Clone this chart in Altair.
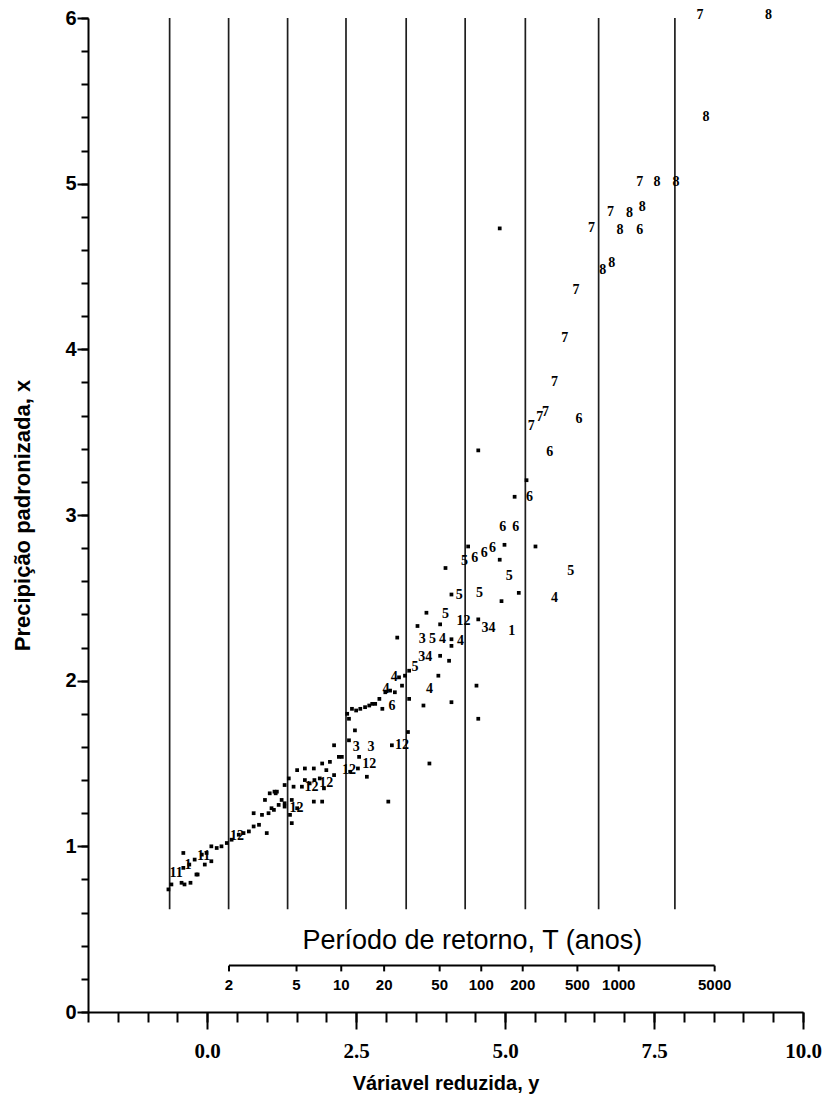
import altair as alt
import numpy as np
import pandas as pd

# ---------------- data (reduced variate y, standardized precipitation x) ----------------
dot_y = [-0.65, -0.60, -0.43, -0.38, -0.28, -0.18, -0.16, -0.40, -0.30, -0.21, -0.40, -0.09, -0.04,
         -0.01, 0.07, 0.07, 0.16, 0.24, 0.33, 0.41, 0.53, 0.61, 0.70, 0.78, 0.87, 0.78, 0.92, 1.00,
         1.03, 1.12, 1.20, 1.05, 1.15, 1.30, 1.30, 1.42,
         0.97, 1.13, 1.37, 1.51, 1.64, 1.79, 1.93, 2.06, 2.21, 2.26, 1.72, 1.89, 2.13, 1.59, 1.42,
         1.25, 1.08, 1.79, 1.93, 1.96, 1.51, 1.39, 1.17, 2.40, 2.68, 3.04, 1.64, 1.80, 2.00, 1.45, 1.30,
         2.48, 2.13, 2.38, 2.55, 2.53, 3.10, 3.73, 2.38, 3.37,
         2.35, 2.43, 2.50, 2.57, 2.65, 2.72, 2.77, 2.82, 2.89, 2.94, 2.99, 3.07, 3.15, 3.22, 3.32,
         3.39, 3.27,
         3.39, 3.63, 3.88, 4.10, 3.19, 3.53, 3.68, 3.91, 3.91, 4.06, 4.10, 4.10, 4.10, 4.00, 4.55,
         4.94, 5.23, 4.91, 4.38, 4.99, 5.51, 5.16, 5.36, 4.55, 4.91, 4.52, 4.55]
dot_x = [0.74, 0.77, 0.78, 0.77, 0.78, 0.83, 0.83, 0.87, 0.89, 0.92, 0.96, 0.95, 0.89,
         0.96, 0.91, 1.00, 0.99, 1.00, 1.02, 1.04, 1.07, 1.08, 1.09, 1.12, 1.13, 1.20, 1.19, 1.08,
         1.20, 1.22, 1.25, 1.32, 1.32, 1.26, 1.24, 1.14,
         1.28, 1.33, 1.41, 1.46, 1.47, 1.47, 1.50, 1.51, 1.54, 1.54, 1.38, 1.41, 1.43, 1.36, 1.28,
         1.28, 1.23, 1.27, 1.27, 1.35, 1.23, 1.19, 1.33, 1.45, 1.42, 1.27, 1.40, 1.40, 1.46, 1.36, 1.37,
         1.70, 1.61, 1.64, 1.54, 1.47, 1.61, 1.50, 1.77, 1.69,
         1.80, 1.83, 1.82, 1.83, 1.84, 1.85, 1.86, 1.86, 1.89, 1.83, 1.93, 1.94, 1.93, 2.02, 2.03,
         2.06, 1.97,
         1.89, 1.85, 2.03, 1.87, 2.26, 2.33, 2.41, 2.34, 2.15, 2.12, 2.25, 2.21, 2.52, 2.68, 2.37,
         2.48, 2.53, 2.73, 2.81, 2.82, 2.81, 3.11, 3.21, 3.39, 4.73, 1.97, 1.77]

lab_y = [-0.52, -0.32, -0.06, 0.50, 1.50, 1.75, 2.00, 2.38, 2.72, 3.27, 2.50, 2.75, 3.00, 3.10,
         3.73, 3.14, 3.49, 3.66, 3.61, 3.78, 3.95, 4.00, 4.30, 4.25, 4.23, 4.57, 4.72, 5.11, 5.83,
         6.10, 5.07, 4.32, 4.49, 4.65, 4.79, 4.96, 5.18, 5.41, 5.75, 6.24, 5.44, 5.58, 5.68, 5.83,
         6.00, 6.19, 6.64, 6.79, 6.45, 6.93, 7.26, 6.77, 7.09, 7.30, 7.26, 7.55, 7.87, 8.37, 8.27, 9.42]
lab_x = [0.84, 0.89, 0.94, 1.06, 1.23, 1.36, 1.38, 1.46, 1.50, 1.61, 1.60, 1.60, 1.95, 1.85,
         1.95, 2.02, 2.08, 2.14, 2.25, 2.25, 2.25, 2.40, 2.36, 2.24, 2.52, 2.53, 2.32, 2.30, 2.50,
         2.66, 2.63, 2.72, 2.74, 2.77, 2.80, 2.93, 2.93, 3.11, 3.38, 3.58, 3.54, 3.59, 3.62, 3.80,
         4.07, 4.36, 4.48, 4.52, 4.73, 4.72, 4.72, 4.83, 4.82, 4.86, 5.01, 5.01, 5.01, 5.40, 6.02, 6.02]
lab_t = ["11", "1", "11", "12", "12", "12", "12", "12", "12", "12", "3", "3", "4", "6",
         "4", "4", "5", "34", "3", "5", "4", "5", "12", "4", "5", "5", "34", "1", "4",
         "5", "5", "5", "6", "6", "6", "6", "6", "6", "6", "6", "7", "7", "7", "7",
         "7", "7", "8", "8", "7", "8", "6", "7", "8", "8", "7", "8", "8", "8", "7", "8"]

# vertical reference lines (reduced variate) and their vertical extent
line_y = [-0.63, 0.36, 1.35, 2.33, 3.34, 4.33, 5.34, 6.57, 7.85]
line_lo = 0.62
line_hi = 6.0

# return-period scale
T_values = [2, 5, 10, 20, 50, 100, 200, 500, 1000, 5000]
T_level = 0.28
T_tick_lo = 0.245
T_label_level = 0.165
T_title_text = "Período de retorno, T (anos)"
T_title_y = 4.45
T_title_x = 0.43

x_major = [0, 2.5, 5, 7.5, 10]
x_minor = [-2 + 0.5 * i for i in range(25)]
y_major = [0, 1, 2, 3, 4, 5, 6]
y_minor = [round(0.2 * i, 1) for i in range(31)]

# ---------------- frames ----------------
dots_df = pd.DataFrame({"y": dot_y, "x": dot_x})
labs_df = pd.DataFrame({"y": lab_y, "x": lab_x, "t": lab_t})
lines_df = pd.DataFrame({"y": line_y, "lo": line_lo, "hi": line_hi})
T_arr = np.array(T_values, dtype=float)
T_df = pd.DataFrame({"T": T_values, "y": -np.log(-np.log(1 - 1 / T_arr)),
                     "lev": T_level, "lo": T_tick_lo, "lab": T_label_level})
T_line_df = pd.DataFrame({"y0": [T_df["y"].min()], "y1": [T_df["y"].max()], "lev": [T_level]})
T_title_df = pd.DataFrame({"y": [T_title_y], "x": [T_title_x], "t": [T_title_text]})

xs = alt.Scale(domain=[-2, 10], nice=False, zero=False)
ys = alt.Scale(domain=[0, 6], nice=False, zero=False)

rules = alt.Chart(lines_df).mark_rule(color="#1e1e1e", strokeWidth=1.7).encode(
    x=alt.X("y:Q", scale=xs, axis=alt.Axis(
        values=x_major, format=".1f", title="Váriavel reduzida, y", orient="bottom",
        tickSize=17, tickWidth=2, tickColor="black", domainColor="black", domainWidth=2,
        labelFont="Liberation Serif", labelFontWeight="bold", labelFontSize=21, labelColor="black",
        labelPadding=11, labelFlush=False, titleFont="Liberation Sans", titleFontWeight="bold",
        titleFontSize=20, titleColor="black", titlePadding=12, grid=False)),
    y=alt.Y("lo:Q", scale=ys, axis=alt.Axis(
        values=y_major, format="d", title="Precipição padronizada, x", orient="left",
        tickSize=11, tickWidth=2, tickColor="black", domainColor="black", domainWidth=2,
        labelFont="Liberation Sans", labelFontWeight="bold", labelFontSize=20, labelColor="black",
        labelPadding=1, labelFlush=False, titleFont="Liberation Sans", titleFontWeight="bold",
        titleFontSize=22, titleColor="black", titlePadding=30, grid=False)),
    y2="hi:Q",
)

dots = alt.Chart(dots_df).mark_square(size=14, color="black", opacity=1).encode(
    x=alt.X("y:Q", scale=xs, axis=alt.Axis(
        values=x_minor, labels=False, title="", orient="bottom", tickSize=10, tickWidth=2,
        tickColor="black", domain=False, grid=False)),
    y=alt.Y("x:Q", scale=ys, axis=alt.Axis(
        values=y_minor, labels=False, title="", orient="left", tickSize=7, tickWidth=2,
        tickColor="black", domain=False, grid=False)),
)

labels = alt.Chart(labs_df).mark_text(
    font="Liberation Serif", fontWeight="bold", fontSize=14, color="black",
    align="center", baseline="middle").encode(
    x=alt.X("y:Q", scale=xs, axis=None),
    y=alt.Y("x:Q", scale=ys, axis=None),
    text="t:N",
)

t_line = alt.Chart(T_line_df).mark_rule(color="black", strokeWidth=2).encode(
    x=alt.X("y0:Q", scale=xs, axis=None), x2="y1:Q",
    y=alt.Y("lev:Q", scale=ys, axis=None),
)
t_ticks = alt.Chart(T_df).mark_rule(color="black", strokeWidth=2).encode(
    x=alt.X("y:Q", scale=xs, axis=None),
    y=alt.Y("lev:Q", scale=ys, axis=None), y2="lo:Q",
)
t_labels = alt.Chart(T_df).mark_text(
    font="Liberation Sans", fontWeight="bold", fontSize=15, color="black",
    align="center", baseline="middle").encode(
    x=alt.X("y:Q", scale=xs, axis=None),
    y=alt.Y("lab:Q", scale=ys, axis=None),
    text="T:N",
)
t_title = alt.Chart(T_title_df).mark_text(
    font="Liberation Sans", fontSize=27, color="black",
    align="center", baseline="middle").encode(
    x=alt.X("y:Q", scale=xs, axis=None),
    y=alt.Y("x:Q", scale=ys, axis=None),
    text="t:N",
)

chart = alt.layer(rules, dots, labels, t_line, t_ticks, t_labels, t_title).resolve_axis(
    x="independent", y="independent"
).properties(
    width=715, height=994,
    padding={"left": 88, "top": 18, "right": 26, "bottom": 96},
    autosize=alt.AutoSizeParams(type="none"),
    background="white",
).configure_view(strokeWidth=0)

chart.save("out.html", embed_options={"renderer": "svg", "actions": False})
